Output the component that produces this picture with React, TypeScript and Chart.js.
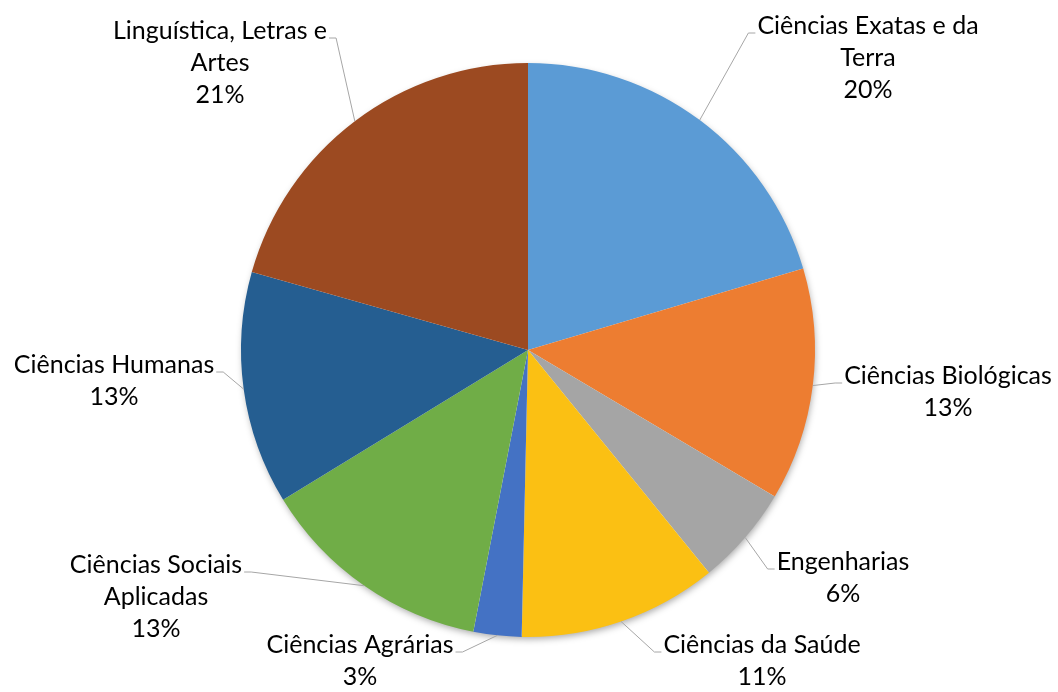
import React, { useEffect, useRef } from "react";
import { Chart, registerables } from "chart.js";

Chart.register(...registerables);

const categories = [
  "Ciências Exatas e da\nTerra",
  "Ciências Biológicas",
  "Engenharias",
  "Ciências da Saúde",
  "Ciências Agrárias",
  "Ciências Sociais\nAplicadas",
  "Ciências Humanas",
  "Linguística, Letras e\nArtes",
];
const values = [20.4, 13.1, 5.6, 11.2, 2.7, 13.2, 13.1, 20.6];
const colors = [
  "#5B9BD5",
  "#ED7D31",
  "#A5A5A5",
  "#FBC013",
  "#4472C4",
  "#70AD47",
  "#255E91",
  "#9C4A21",
];

// label layout: center x offset and first-line baseline offset from pie center, side
const labelLayout: { dx: number; dy: number; side: "left" | "right" }[] = [
  { dx: 340, dy: -316, side: "right" },
  { dx: 420, dy: 34, side: "right" },
  { dx: 315, dy: 220, side: "right" },
  { dx: 234, dy: 303, side: "right" },
  { dx: -168, dy: 303, side: "left" },
  { dx: -372, dy: 223, side: "left" },
  { dx: -414, dy: 23, side: "left" },
  { dx: -308, dy: -311, side: "left" },
];

const FONT = "25px Lato";
const LINE_H = 32;

const shadowPlugin = {
  id: "pieShadow",
  beforeDatasetsDraw(chart: any) {
    const meta = chart.getDatasetMeta(0);
    const arc = meta.data[0];
    if (!arc) return;
    const ctx = chart.ctx;
    ctx.save();
    ctx.shadowColor = "rgba(0,0,0,0.35)";
    ctx.shadowBlur = 7;
    ctx.shadowOffsetX = 1;
    ctx.shadowOffsetY = 3;
    ctx.fillStyle = "#ffffff";
    ctx.beginPath();
    ctx.arc(arc.x, arc.y, arc.outerRadius - 1, 0, Math.PI * 2);
    ctx.fill();
    ctx.restore();
  },
};

const labelPlugin = {
  id: "outLabels",
  afterDatasetsDraw(chart: any) {
    const meta = chart.getDatasetMeta(0);
    const ctx = chart.ctx;
    const total = values.reduce((a, b) => a + b, 0);
    ctx.save();
    ctx.font = FONT;
    meta.data.forEach((arc: any, i: number) => {
      const mid = (arc.startAngle + arc.endAngle) / 2;
      const r = arc.outerRadius;
      const sx = arc.x + Math.cos(mid) * r;
      const sy = arc.y + Math.sin(mid) * r;
      const lay = labelLayout[i];
      const lines = categories[i].split("\n");
      lines.push(Math.round((values[i] / total) * 100) + "%");
      const cx = arc.x + lay.dx;
      const by = arc.y + lay.dy;
      const w0 = ctx.measureText(lines[0]).width;
      const tailEnd = lay.side === "right" ? cx - w0 / 2 - 2 : cx + w0 / 2 + 2;
      const elbow = lay.side === "right" ? tailEnd - 7 : tailEnd + 7;
      const ty = by - 1;
      ctx.strokeStyle = "#A6A6A6";
      ctx.lineWidth = 1;
      ctx.beginPath();
      ctx.moveTo(sx, sy);
      ctx.lineTo(elbow, ty);
      ctx.lineTo(tailEnd, ty);
      ctx.stroke();
      ctx.fillStyle = "#000000";
      ctx.textAlign = "center";
      ctx.textBaseline = "alphabetic";
      lines.forEach((ln, k) => {
        ctx.fillText(ln, cx, by + k * LINE_H);
      });
    });
    ctx.restore();
  },
};

export default function App() {
  const ref = useRef<HTMLCanvasElement | null>(null);
  useEffect(() => {
    document.body.style.margin = "0";
    const canvas = ref.current;
    if (!canvas) return;
    const chart = new Chart(canvas, {
      type: "pie",
      data: {
        labels: categories.map((c) => c.replace("\n", " ")),
        datasets: [
          {
            data: values,
            backgroundColor: colors,
            borderWidth: 0,
          },
        ],
      },
      options: {
        animation: false,
        responsive: false,
        layout: { padding: { top: 63, bottom: 55, left: 241, right: 243 } },
        plugins: {
          legend: { display: false },
          tooltip: { enabled: false },
        },
      },
      plugins: [shadowPlugin, labelPlugin],
    });
    return () => chart.destroy();
  }, []);
  return (
    <div style={{ width: 1058, height: 692, background: "#fff" }}>
      <canvas ref={ref} width={1058} height={692} style={{ display: "block" }} />
    </div>
  );
}
